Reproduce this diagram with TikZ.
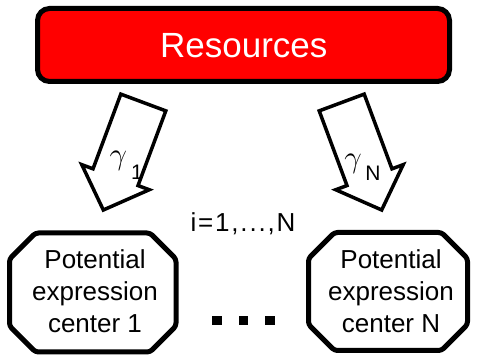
\RequirePackage{fix-cm}
\documentclass[tikz,border=0pt]{standalone}
\usepackage{fontspec}
\setmainfont{Liberation Sans}
\usetikzlibrary{calc}
\begin{document}
\begin{tikzpicture}[x=1pt,y=1pt,
  resbox/.style={draw=black,fill=red,line width=5pt,rounded corners=12pt},
  octa/.style={draw=black,fill=white,line width=5pt,rounded corners=3pt,line join=round},
  blockarrow/.style={draw=black,fill=white,line width=3.5pt,line join=miter},
  boxtext/.style={align=center,inner sep=0pt,font=\fontsize{26}{32}\selectfont},
  gam/.style={inner sep=0pt,font=\fontsize{31}{34}\selectfont},
  sub/.style={inner sep=0pt,font=\fontsize{21}{25}\selectfont},
  dot/.style={fill=black,minimum size=9.5pt,inner sep=0pt,draw=none}]
\useasboundingbox (0,0) rectangle (477,356);
% Resources box
\draw[resbox] (37.5,274.5) rectangle (449.5,347.5);
\node[text=white,font=\fontsize{35}{40}\selectfont,anchor=base,inner sep=0pt] (res) at (243.8,298.3) {Resources};
% left block arrow
\begin{scope}[shift={(143.3,253.5)},rotate=249.6]
\draw[blockarrow] (0,24) -- (79.7,24) -- (79.7,36) -- (114.7,0) -- (79.7,-36) -- (79.7,-24) -- (0,-24) -- cycle;
\end{scope}
% right block arrow
\begin{scope}[shift={(341.7,253.5)},rotate=290.4]
\draw[blockarrow] (0,24) -- (79.7,24) -- (79.7,36) -- (114.7,0) -- (79.7,-36) -- (79.7,-24) -- (0,-24) -- cycle;
\end{scope}
\node[gam] (g1) at (118.3,194.7) {$\gamma$};
\node[sub] (s1) at (137,183.5) {1};
\node[gam] (gN) at (353,192.5) {$\gamma$};
\node[sub] (sN) at (373,182.3) {N};
% index text
\node[anchor=base,inner sep=0pt,font=\fontsize{26}{30}\selectfont\addfontfeature{LetterSpace=7}] (idx) at (243,124.3) {i=1,...,N};
% octagons
\def\cut{26}
\draw[octa] (9.5+\cut,123) -- (176-\cut,123) -- (176,123-\cut) -- (176,4+\cut) -- (176-\cut,4) -- (9.5+\cut,4) -- (9.5,4+\cut) -- (9.5,123-\cut) -- cycle;
\draw[octa] (308.5+\cut,123.5) -- (467.5-\cut,123.5) -- (467.5,123.5-\cut) -- (467.5,5.5+\cut) -- (467.5-\cut,5.5) -- (308.5+\cut,5.5) -- (308.5,5.5+\cut) -- (308.5,123.5-\cut) -- cycle;
\node[boxtext] (c1) at (95,64.5) {Potential\\expression\\center 1};
\node[boxtext] (cN) at (391,64.5) {Potential\\expression\\center N};
% dots
\node[dot] (d1) at (217,35.3) {};
\node[dot] (d2) at (243.7,35.3) {};
\node[dot] (d3) at (270,35.3) {};
\end{tikzpicture}
\end{document}
